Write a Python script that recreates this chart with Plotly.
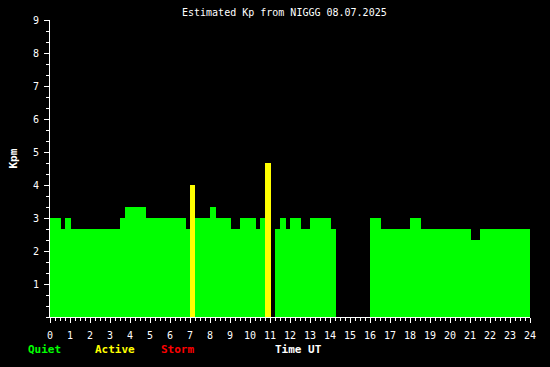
import plotly.graph_objects as go

# Segments of the estimated Kp (hours UT)
seg_start = [0.0, 0.55, 0.75, 1.05, 3.5, 3.75, 4.8, 6.8, 7.0, 7.27,
             8.0, 8.3, 9.05, 9.5, 10.3, 10.5, 10.75, 11.25, 11.5, 11.8,
             12.0, 12.55, 13.0, 14.05, 16.0, 16.55, 18.0, 18.55, 21.05, 21.5]
seg_end = [0.55, 0.75, 1.05, 3.5, 3.75, 4.8, 6.8, 7.0, 7.27, 8.0,
           8.3, 9.05, 9.5, 10.3, 10.5, 10.75, 11.05, 11.5, 11.8, 12.0,
           12.55, 13.0, 14.05, 14.3, 16.55, 18.0, 18.55, 21.05, 21.5, 24.0]
kp_values = [3, 2.67, 3, 2.67, 3, 3.33, 3, 2.67, 4, 3,
             3.33, 3, 2.67, 3, 2.67, 3, 4.67, 2.67, 3, 2.67,
             3, 2.67, 3, 2.67, 3, 2.67, 3, 2.67, 2.33, 2.67]

x_ticks = list(range(0, 25))
y_ticks = list(range(1, 10))
title_text = "Estimated Kp from NIGGG 08.07.2025"

GREEN, YELLOW, RED = "#00ff00", "#ffff00", "#ff0000"
FONT = "DejaVu Sans Mono"

def level_color(v):
    if v >= 5:
        return RED
    if v >= 4:
        return YELLOW
    return GREEN

fig = go.Figure()
for col in (GREEN, YELLOW, RED):
    idx = [i for i, v in enumerate(kp_values) if level_color(v) == col]
    if not idx:
        continue
    fig.add_trace(go.Bar(
        x=[seg_start[i] for i in idx],
        y=[kp_values[i] for i in idx],
        width=[seg_end[i] - seg_start[i] for i in idx],
        offset=0,
        marker=dict(color=col, line=dict(width=0)),
        showlegend=False,
        hoverinfo="skip",
    ))

axis_font = dict(family=FONT, size=10, color="white")
fig.update_layout(
    width=550, height=367,
    margin=dict(l=50, r=20, t=20, b=50),
    paper_bgcolor="black", plot_bgcolor="black",
    barmode="overlay", bargap=0,
    xaxis=dict(
        range=[0, 24], tickmode="array", tickvals=x_ticks,
        ticktext=[str(t) for t in x_ticks],
        ticks="outside", ticklen=5, tickwidth=1, tickcolor="white",
        showline=True, linecolor="white", linewidth=1,
        showgrid=False, zeroline=False, tickfont=axis_font,
        ticklabelstandoff=4,
        layer="below traces",
        minor=dict(tick0=0, dtick=0.25, ticks="outside", ticklen=3,
                   tickcolor="white", showgrid=False),
        fixedrange=True,
    ),
    yaxis=dict(
        range=[0, 9], tickmode="array", tickvals=y_ticks,
        ticktext=[str(t) for t in y_ticks],
        ticks="outside", ticklen=5, tickwidth=1, tickcolor="white",
        showline=True, linecolor="white", linewidth=1,
        showgrid=False, zeroline=False, tickfont=axis_font,
        ticklabelstandoff=3,
        minor=dict(tick0=0, dtick=1/3, ticks="outside", ticklen=3,
                   tickcolor="white", showgrid=False),
        fixedrange=True,
    ),
)

def px_x(p):
    return (p - 50) / 480.0

def px_y(p):
    return (317 - p) / 297.0

annots = [
    dict(text=title_text, x=px_x(284), y=px_y(12.5),
         font=dict(family=FONT, size=10, color="white")),
    dict(text="<b>Kpm</b>", x=px_x(12.5), y=px_y(159), textangle=-90,
         font=dict(family=FONT, size=11, color="white")),
    dict(text="<b>Quiet</b>", x=px_x(44.5), y=px_y(349),
         font=dict(family=FONT, size=11, color=GREEN)),
    dict(text="<b>Active</b>", x=px_x(114.5), y=px_y(349),
         font=dict(family=FONT, size=11, color=YELLOW)),
    dict(text="<b>Storm</b>", x=px_x(177.5), y=px_y(349),
         font=dict(family=FONT, size=11, color=RED)),
    dict(text="<b>Time UT</b>", x=px_x(298), y=px_y(349),
         font=dict(family=FONT, size=11, color="white")),
]
for a in annots:
    fig.add_annotation(xref="paper", yref="paper", showarrow=False,
                       xanchor="center", yanchor="middle", **a)

fig.write_html("out.html")
